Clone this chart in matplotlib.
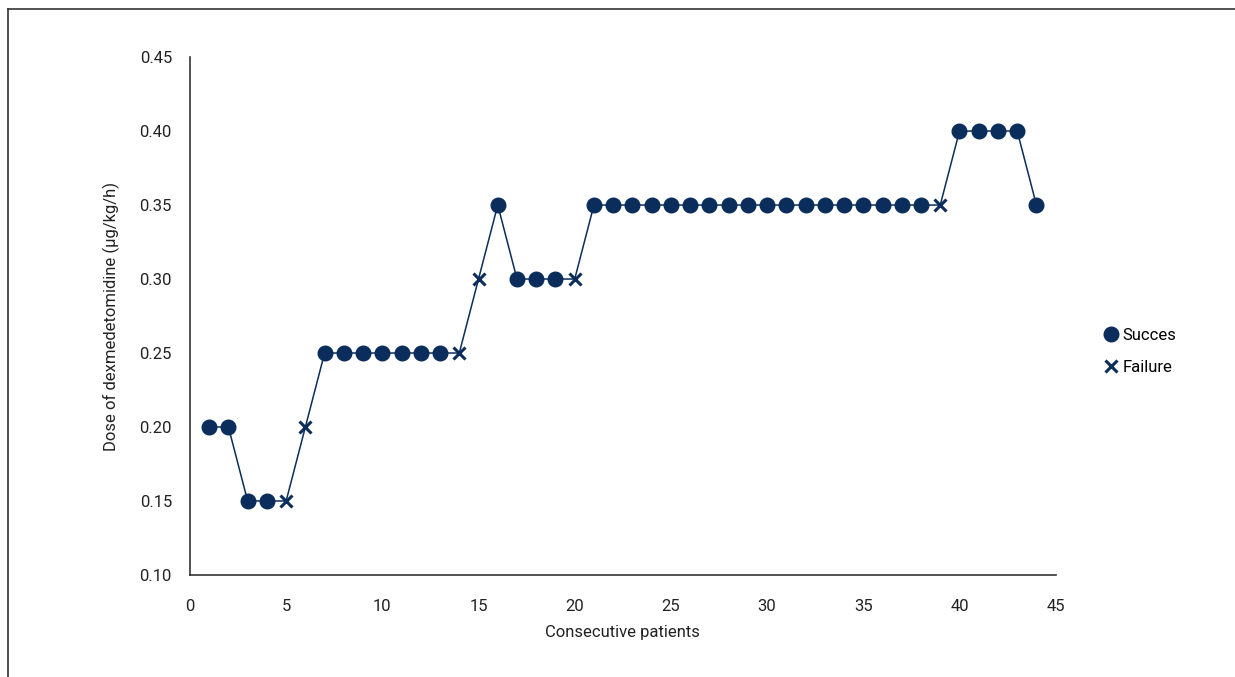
import numpy as np
import matplotlib
matplotlib.use("Agg")
import matplotlib.pyplot as plt
from matplotlib.lines import Line2D

# data
patients = list(range(1, 45))
dose = [0.20, 0.20, 0.15, 0.15, 0.15, 0.20, 0.25, 0.25, 0.25, 0.25,
        0.25, 0.25, 0.25, 0.25, 0.30, 0.35, 0.30, 0.30, 0.30, 0.30,
        0.35, 0.35, 0.35, 0.35, 0.35, 0.35, 0.35, 0.35, 0.35, 0.35,
        0.35, 0.35, 0.35, 0.35, 0.35, 0.35, 0.35, 0.35, 0.35, 0.40,
        0.40, 0.40, 0.40, 0.35]
failure = [5, 6, 14, 15, 20, 39]  # patients marked with an x

plt.rcParams['font.family'] = ['Roboto', 'DejaVu Sans']
navy = '#0b2d5c'
txt = '#222222'
fs = 12

fig = plt.figure(figsize=(12.35, 6.77), dpi=100)
ax = fig.add_axes([0.1538, 0.1507, 0.701, 0.765])

x = np.array(patients)
y = np.array(dose)
fail_mask = np.isin(x, failure)

ax.plot(x, y, color=navy, lw=1.1, zorder=2)
ax.plot(x[~fail_mask], y[~fail_mask], 'o', color=navy, ms=10.5, zorder=3)
ax.plot(x[fail_mask], y[fail_mask], 'x', color=navy, ms=8, mew=2.2, zorder=3)

ax.set_xlim(0, 45)
ax.set_ylim(0.10, 0.45)
ax.set_xticks(range(0, 46, 5))
yt = np.arange(0.10, 0.451, 0.05)
ax.set_yticks(yt)
ax.set_yticklabels([f'{v:.2f}' for v in yt])
ax.tick_params(axis='y', length=0, labelsize=fs, colors=txt, pad=13)
ax.tick_params(axis='x', length=0, labelsize=fs, colors=txt, pad=17)
for s in ['top', 'right']:
    ax.spines[s].set_visible(False)
for s in ['left', 'bottom']:
    ax.spines[s].set_color('#333333')
    ax.spines[s].set_linewidth(1.2)

ax.set_xlabel('Consecutive patients', fontsize=fs, color=txt, labelpad=8)
ax.set_ylabel('Dose of dexmedetomidine (μg/kg/h)', fontsize=fs, color=txt, labelpad=14)

handles = [Line2D([], [], marker='o', ls='', color=navy, ms=10.5),
           Line2D([], [], marker='x', ls='', color=navy, ms=8, mew=2.2)]
ax.legend(handles, ['Succes', 'Failure'], loc='center left',
          bbox_to_anchor=(1.035, 0.432), frameon=False, fontsize=fs,
          handletextpad=0.1, handlelength=1.2, labelspacing=1.0)

# outer frame lines (left and top)
fig.add_artist(Line2D([8/1235, 8/1235], [0, 1 - 9/677], color='#333333', lw=1.2))
fig.add_artist(Line2D([8/1235, 1], [1 - 9/677, 1 - 9/677], color='#333333', lw=1.2))

fig.savefig('out.png', dpi=100)
